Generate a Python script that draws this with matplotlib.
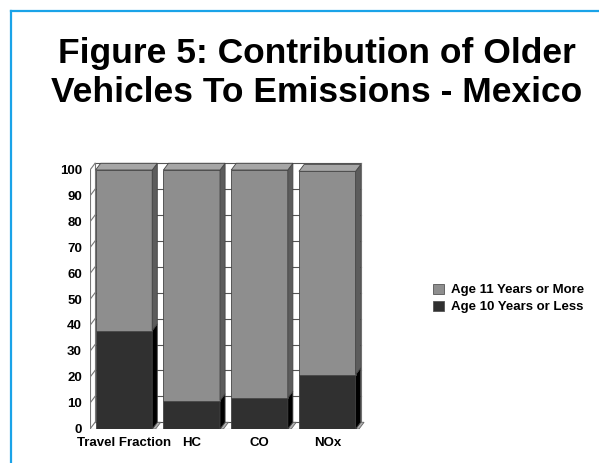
import numpy as np
import matplotlib.pyplot as plt
from matplotlib.patches import Polygon, Rectangle

# data (percent)
categories = ['Travel Fraction', 'HC', 'CO', 'NOx']
age_10_or_less = [38, 11, 12, 21]
age_11_or_more = [62, 89, 88, 78.5]
series_labels = ['Age 11 Years or More', 'Age 10 Years or Less']
yticks = list(range(0, 101, 10))

plt.rcParams['font.family'] = ['Liberation Sans', 'DejaVu Sans']

fig = plt.figure(figsize=(5.99, 4.64), dpi=100)
W, H = 599, 464

# blue frame
fig.add_artist(plt.Line2D([11 / W, 11 / W], [0, 1 - 12 / H], color='#1aa3e8', lw=1.6))
fig.add_artist(plt.Line2D([11 / W, 1], [1 - 12 / H, 1 - 12 / H], color='#1aa3e8', lw=1.6))

fig.text(317 / W, 1 - 53 / H, 'Figure 5: Contribution of Older', ha='center', va='center',
         fontsize=25.5, fontweight='bold')
fig.text(317 / W, 1 - 92 / H, 'Vehicles To Emissions - Mexico', ha='center', va='center',
         fontsize=25.5, fontweight='bold')

# axes: x -0.5 at px 90, 67.8 px per unit; y 0 at px 430, 2.59 px per unit
x0, x1 = -0.5, 3.7
y0, y1 = 0, 105
ppx, ppy = 67.8, 2.59
left = 90 + (x0 + 0.5) * ppx
ax = fig.add_axes([left / W, (H - 430) / H, (x1 - x0) * ppx / W, (y1 - y0) * ppy / H])
ax.set_xlim(x0, x1)
ax.set_ylim(y0, y1)
ax.axis('off')

dx, dy = 0.075, 2.6
width = 0.835
xs = np.arange(len(categories))

# back wall grid lines and left wall
for t in yticks:
    ax.plot([-0.5 + dx, 3.5], [t + dy, t + dy], color='#555555', lw=0.8, zorder=1)
    ax.plot([-0.5, -0.5 + dx], [t, t + dy], color='#777777', lw=0.8, zorder=1)
    ax.text(-0.62, t, str(t), ha='right', va='center', fontsize=9.5, fontweight='bold')
ax.plot([-0.5, -0.5], [0, 100], color='#777777', lw=0.8, zorder=1)
ax.plot([-0.5 + dx, -0.5 + dx], [dy, 100 + dy], color='#777777', lw=0.8, zorder=1)
ax.plot([3.5, 3.5], [dy, 100 + dy], color='#777777', lw=0.8, zorder=1)
ax.plot([-0.5, 3.5 - dx], [0, 0], color='#777777', lw=0.8, zorder=1)

dark, dark_side = '#303030', '#000000'
gray, gray_side, gray_top = '#8e8e8e', '#5c5c5c', '#a6a6a6'

for x, cat, lo, hi in zip(xs, categories, age_10_or_less, age_11_or_more):
    l, r = x - width / 2, x + width / 2
    tot = lo + hi
    # floor shadow
    ax.add_patch(Polygon([(r, 0), (r + dx, dy), (r + dx + 0.05, dy), (r + 0.05, 0)],
                         closed=True, fc='#b0b0b0', ec='#666666', lw=0.6, zorder=2))
    for b, h, fc, sc in [(0, lo, dark, dark_side), (lo, hi, gray, gray_side)]:
        ax.add_patch(Rectangle((l, b), width, h, fc=fc, ec='#444444', lw=0.6, zorder=3))
        ax.add_patch(Polygon([(r, b), (r + dx, b + dy), (r + dx, b + h + dy), (r, b + h)],
                             closed=True, fc=sc, ec='#444444', lw=0.6, zorder=3))
    ax.add_patch(Polygon([(l, tot), (l + dx, tot + dy), (r + dx, tot + dy), (r, tot)],
                         closed=True, fc=gray_top, ec='#444444', lw=0.6, zorder=3))
    ax.text(x, -2.8, cat, ha='center', va='top', fontsize=9.5, fontweight='bold')

# legend
for i, (lab, fc) in enumerate(zip(series_labels, [gray, dark])):
    yy = 290 + i * 17
    fig.add_artist(Rectangle((433 / W, (H - yy - 5) / H), 11 / W, 10 / H, fc=fc,
                             ec='#555555', lw=0.6))
    fig.text(451 / W, 1 - yy / H, lab, ha='left', va='center', fontsize=9.5, fontweight='bold')

fig.savefig('out.png', dpi=100)
